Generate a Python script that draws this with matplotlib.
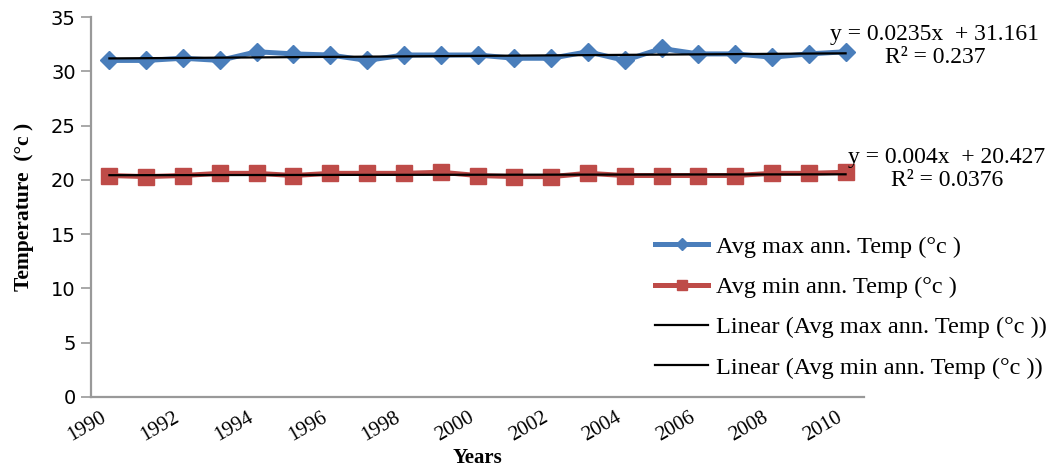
import numpy as np
from matplotlib import pyplot as plt

years = np.arange(1990, 2011)
tmax = [31.0, 31.0, 31.2, 31.0, 31.8, 31.6, 31.5, 31.0, 31.5, 31.5, 31.5,
        31.2, 31.2, 31.8, 31.0, 32.1, 31.6, 31.6, 31.3, 31.6, 31.8]
tmin = [20.4, 20.3, 20.4, 20.6, 20.6, 20.4, 20.6, 20.6, 20.6, 20.7, 20.4,
        20.3, 20.3, 20.6, 20.4, 20.4, 20.4, 20.4, 20.6, 20.6, 20.7]

# Excel-style linear trend coefficients (x = 1..21)
max_slope, max_icept, max_r2 = 0.0235, 31.161, 0.237
min_slope, min_icept, min_r2 = 0.004, 20.427, 0.0376

year_ticks = list(range(1990, 2011, 2))
temp_ticks = [0, 5, 10, 15, 20, 25, 30, 35]

blue = "#4A7EBB"
red = "#BE4B48"
grey = "#999999"
serif = "Liberation Serif"

fig = plt.figure(figsize=(10.54, 4.70), dpi=100)
ax = fig.add_axes([91 / 1054, 73 / 470, 773 / 1054, 380 / 470])

xi = np.arange(1, len(years) + 1)

l1, = ax.plot(years, tmax, color=blue, lw=3.6, marker="D", ms=9.5,
              label="Avg max ann. Temp (°c )")
l2, = ax.plot(years, tmin, color=red, lw=3.6, marker="s", ms=12,
              label="Avg min ann. Temp (°c )")
l3, = ax.plot(years, max_slope * xi + max_icept, color="black", lw=1.6,
              label="Linear (Avg max ann. Temp (°c ))")
l4, = ax.plot(years, min_slope * xi + min_icept, color="black", lw=1.6,
              label="Linear (Avg min ann. Temp (°c ))")

ax.set_xlim(1989.5, 2010.5)
ax.set_ylim(0, 35)
ax.set_xticks(year_ticks)
ax.set_xticklabels([str(y) for y in year_ticks], rotation=30, ha="right",
                   family=serif, fontsize=15)
ax.set_yticks(temp_ticks)
ax.tick_params(axis="y", direction="out", length=7, width=1.2, color=grey,
               labelsize=14, pad=4)
ax.tick_params(axis="x", length=0, pad=8)

for spine in ["top", "right"]:
    ax.spines[spine].set_visible(False)
for spine in ["left", "bottom"]:
    ax.spines[spine].set_color(grey)
    ax.spines[spine].set_linewidth(1.6)

ax.set_ylabel("Temperature  (°c )", family=serif, fontweight="bold",
              fontsize=15.5, labelpad=12)
ax.set_xlabel("Years", family=serif, fontweight="bold", fontsize=15,
              labelpad=2)

fig.text(935 / 1054, 1 - 46 / 470,
         f"y = {max_slope:g}x  + {max_icept:g}\nR² = {max_r2:g}",
         ha="center", va="center", family=serif, fontsize=17, linespacing=1.1)
fig.text(947 / 1054, 1 - 169 / 470,
         f"y = {min_slope:g}x  + {min_icept:g}\nR² = {min_r2:g}",
         ha="center", va="center", family=serif, fontsize=17, linespacing=1.1)

leg = fig.legend(handles=[l1, l2, l3, l4], loc="upper left",
                 bbox_to_anchor=(633 / 1054, 1 - 214 / 470), frameon=False,
                 prop={"family": serif, "size": 17.5}, handlelength=2.2,
                 handletextpad=0.3, labelspacing=0.75, markerscale=0.6)

fig.savefig("out.png", dpi=100)
